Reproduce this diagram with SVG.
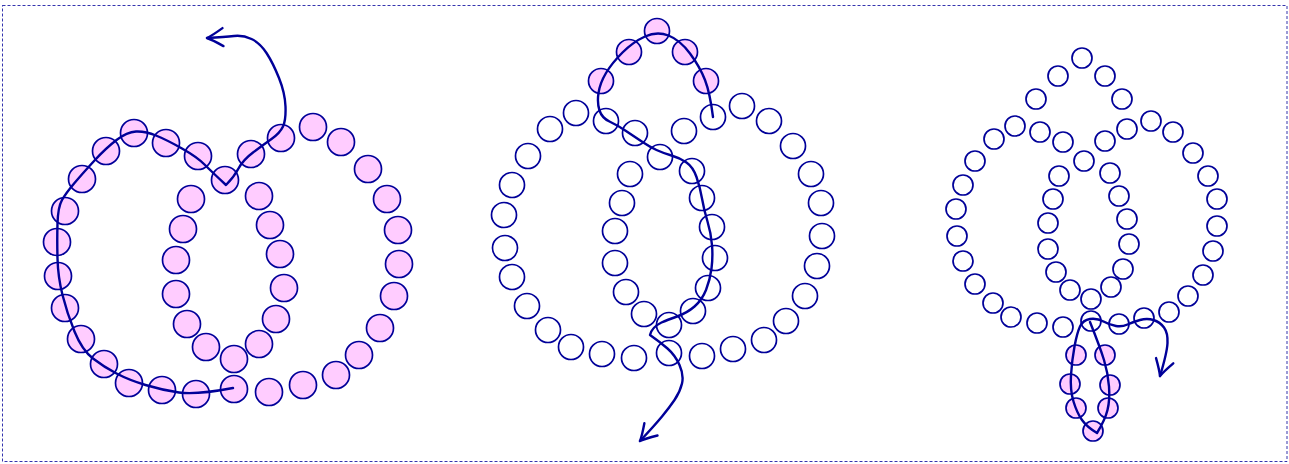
<svg xmlns="http://www.w3.org/2000/svg" width="1289" height="464" viewBox="0 0 1289 464">
<style>
.p{fill:#ffccff;stroke:#000099;stroke-width:1.7}
.w{fill:#ffffff;stroke:#000099;stroke-width:1.7}
.t{fill:none;stroke:#000099;stroke-width:2.4;stroke-linecap:round;stroke-linejoin:round}
</style>
<defs>
<marker id="ah" markerUnits="userSpaceOnUse" viewBox="-20 -12 24 24" refX="0" refY="0" markerWidth="24" markerHeight="24" orient="auto" overflow="visible">
<path d="M-16,-9 Q-5,-2 0,0 Q-5,2 -16,9" fill="none" stroke="#000099" stroke-width="2.4" stroke-linecap="round" stroke-linejoin="round"/>
</marker>
</defs>
<rect x="2.5" y="5.5" width="1284.5" height="456" fill="none" stroke="#000099" stroke-width="0.8" stroke-dasharray="3,2"/>

<g id="left-beads">
<g id="left-outer" class="p">
<circle class="p" cx="134" cy="133" r="13.5"/>
<circle class="p" cx="106" cy="151" r="13.5"/>
<circle class="p" cx="82" cy="179" r="13.5"/>
<circle class="p" cx="65" cy="211" r="13.5"/>
<circle class="p" cx="57" cy="242" r="13.5"/>
<circle class="p" cx="58" cy="276" r="13.5"/>
<circle class="p" cx="65" cy="308" r="13.5"/>
<circle class="p" cx="81" cy="339" r="13.5"/>
<circle class="p" cx="104" cy="364" r="13.5"/>
<circle class="p" cx="129" cy="383" r="13.5"/>
<circle class="p" cx="162" cy="390" r="13.5"/>
<circle class="p" cx="196" cy="394" r="13.5"/>
<circle class="p" cx="234" cy="389" r="13.5"/>
<circle class="p" cx="269" cy="392" r="13.5"/>
<circle class="p" cx="303" cy="385" r="13.5"/>
<circle class="p" cx="336" cy="375" r="13.5"/>
<circle class="p" cx="359" cy="355" r="13.5"/>
<circle class="p" cx="380" cy="328" r="13.5"/>
<circle class="p" cx="394" cy="296" r="13.5"/>
<circle class="p" cx="399" cy="264" r="13.5"/>
<circle class="p" cx="398" cy="230" r="13.5"/>
<circle class="p" cx="387" cy="199" r="13.5"/>
<circle class="p" cx="368" cy="169" r="13.5"/>
<circle class="p" cx="341" cy="142" r="13.5"/>
<circle class="p" cx="313" cy="127" r="13.5"/>
<circle class="p" cx="281" cy="138" r="13.5"/>
<circle class="p" cx="251" cy="154" r="13.5"/>
<circle class="p" cx="225" cy="180" r="13.5"/>
<circle class="p" cx="198" cy="156" r="13.5"/>
<circle class="p" cx="166" cy="143" r="13.5"/>
</g>
<g id="left-inner">
<circle class="p" cx="191" cy="199" r="13.5"/>
<circle class="p" cx="183" cy="229" r="13.5"/>
<circle class="p" cx="176" cy="260" r="13.5"/>
<circle class="p" cx="176" cy="294" r="13.5"/>
<circle class="p" cx="187" cy="324" r="13.5"/>
<circle class="p" cx="206" cy="347" r="13.5"/>
<circle class="p" cx="234" cy="359" r="13.5"/>
<circle class="p" cx="259" cy="344" r="13.5"/>
<circle class="p" cx="276" cy="319" r="13.5"/>
<circle class="p" cx="284" cy="288" r="13.5"/>
<circle class="p" cx="280" cy="254" r="13.5"/>
<circle class="p" cx="270" cy="225" r="13.5"/>
<circle class="p" cx="259" cy="196" r="13.5"/>
</g>
</g>

<g id="middle-beads">
<g id="middle-top">
<circle class="p" cx="657" cy="31" r="12.5"/>
<circle class="p" cx="629" cy="52" r="12.5"/>
<circle class="p" cx="685" cy="52" r="12.5"/>
<circle class="p" cx="601" cy="81" r="12.5"/>
<circle class="p" cx="706" cy="81" r="12.5"/>
</g>
<g id="middle-inner">
<circle class="w" cx="713" cy="117" r="12.5"/>
<circle class="w" cx="684" cy="131" r="12.5"/>
<circle class="w" cx="606" cy="121" r="12.5"/>
<circle class="w" cx="635" cy="133" r="12.5"/>
<circle class="w" cx="660" cy="157" r="12.5"/>
<circle class="w" cx="692" cy="171" r="12.5"/>
<circle class="w" cx="702" cy="198" r="12.5"/>
<circle class="w" cx="712" cy="227" r="12.5"/>
<circle class="w" cx="715" cy="258" r="12.5"/>
<circle class="w" cx="708" cy="288" r="12.5"/>
<circle class="w" cx="693" cy="311" r="12.5"/>
<circle class="w" cx="669" cy="325" r="12.5"/>
<circle class="w" cx="644" cy="314" r="12.5"/>
<circle class="w" cx="626" cy="292" r="12.5"/>
<circle class="w" cx="615" cy="263" r="12.5"/>
<circle class="w" cx="615" cy="231" r="12.5"/>
<circle class="w" cx="622" cy="203" r="12.5"/>
<circle class="w" cx="630" cy="174" r="12.5"/>
</g>
<g id="middle-outer">
<circle class="w" cx="576" cy="113" r="12.5"/>
<circle class="w" cx="550" cy="129" r="12.5"/>
<circle class="w" cx="528" cy="156" r="12.5"/>
<circle class="w" cx="512" cy="185" r="12.5"/>
<circle class="w" cx="504" cy="215" r="12.5"/>
<circle class="w" cx="505" cy="248" r="12.5"/>
<circle class="w" cx="512" cy="277" r="12.5"/>
<circle class="w" cx="527" cy="306" r="12.5"/>
<circle class="w" cx="548" cy="330" r="12.5"/>
<circle class="w" cx="571" cy="347" r="12.5"/>
<circle class="w" cx="602" cy="354" r="12.5"/>
<circle class="w" cx="634" cy="358" r="12.5"/>
<circle class="w" cx="669" cy="353" r="12.5"/>
<circle class="w" cx="702" cy="356" r="12.5"/>
<circle class="w" cx="733" cy="349" r="12.5"/>
<circle class="w" cx="764" cy="340" r="12.5"/>
<circle class="w" cx="786" cy="321" r="12.5"/>
<circle class="w" cx="805" cy="296" r="12.5"/>
<circle class="w" cx="817" cy="266" r="12.5"/>
<circle class="w" cx="822" cy="236" r="12.5"/>
<circle class="w" cx="821" cy="203" r="12.5"/>
<circle class="w" cx="811" cy="174" r="12.5"/>
<circle class="w" cx="793" cy="146" r="12.5"/>
<circle class="w" cx="769" cy="121" r="12.5"/>
<circle class="w" cx="742" cy="106" r="12.5"/>
</g>
</g>

<g id="right-beads">
<g id="right-outer">
<circle class="w" cx="1082" cy="58" r="10"/>
<circle class="w" cx="1058" cy="76" r="10"/>
<circle class="w" cx="1105" cy="76" r="10"/>
<circle class="w" cx="1036" cy="99" r="10"/>
<circle class="w" cx="1122" cy="99" r="10"/>
<circle class="w" cx="1015" cy="126" r="10"/>
<circle class="w" cx="994" cy="139" r="10"/>
<circle class="w" cx="975" cy="161" r="10"/>
<circle class="w" cx="963" cy="185" r="10"/>
<circle class="w" cx="956" cy="209" r="10"/>
<circle class="w" cx="957" cy="236" r="10"/>
<circle class="w" cx="963" cy="261" r="10"/>
<circle class="w" cx="975" cy="284" r="10"/>
<circle class="w" cx="993" cy="303" r="10"/>
<circle class="w" cx="1011" cy="317" r="10"/>
<circle class="w" cx="1037" cy="323" r="10"/>
<circle class="w" cx="1063" cy="327" r="10"/>
<circle class="w" cx="1091" cy="321" r="10"/>
<circle class="w" cx="1119" cy="324" r="10"/>
<circle class="w" cx="1144" cy="318" r="10"/>
<circle class="w" cx="1169" cy="312" r="10"/>
<circle class="w" cx="1188" cy="296" r="10"/>
<circle class="w" cx="1203" cy="275" r="10"/>
<circle class="w" cx="1213" cy="251" r="10"/>
<circle class="w" cx="1217" cy="226" r="10"/>
<circle class="w" cx="1217" cy="199" r="10"/>
<circle class="w" cx="1208" cy="176" r="10"/>
<circle class="w" cx="1193" cy="153" r="10"/>
<circle class="w" cx="1173" cy="132" r="10"/>
<circle class="w" cx="1151" cy="121" r="10"/>
<circle class="w" cx="1127" cy="129" r="10"/>
<circle class="w" cx="1105" cy="141" r="10"/>
<circle class="w" cx="1084" cy="161" r="10"/>
<circle class="w" cx="1063" cy="142" r="10"/>
<circle class="w" cx="1040" cy="132" r="10"/>
</g>
<g id="right-inner">
<circle class="w" cx="1059" cy="176" r="10"/>
<circle class="w" cx="1053" cy="199" r="10"/>
<circle class="w" cx="1048" cy="223" r="10"/>
<circle class="w" cx="1048" cy="249" r="10"/>
<circle class="w" cx="1056" cy="272" r="10"/>
<circle class="w" cx="1070" cy="290" r="10"/>
<circle class="w" cx="1091" cy="299" r="10"/>
<circle class="w" cx="1111" cy="287" r="10"/>
<circle class="w" cx="1123" cy="269" r="10"/>
<circle class="w" cx="1129" cy="244" r="10"/>
<circle class="w" cx="1127" cy="219" r="10"/>
<circle class="w" cx="1119" cy="196" r="10"/>
<circle class="w" cx="1110" cy="173" r="10"/>
</g>
<g id="right-drop">
<circle class="p" cx="1076" cy="355" r="10"/>
<circle class="p" cx="1105" cy="355" r="10"/>
<circle class="p" cx="1070" cy="384" r="10"/>
<circle class="p" cx="1110" cy="385" r="10"/>
<circle class="p" cx="1076" cy="408" r="10"/>
<circle class="p" cx="1108" cy="408" r="10"/>
<circle class="p" cx="1093" cy="431" r="10"/>
</g>
</g>

<g id="connectors">
<path class="t" marker-end="url(#ah)" d="M233,388 Q196,395 179,392.5 Q162,390 145.5,385 Q129,380 116.5,373.5 Q104,367 93,358.5 Q82,350 74.5,331.5 Q67,313 62.5,295 Q58,277 57.5,258.5 Q57,240 57.5,223.5 Q58,207 62,200 Q66,193 74.5,183 Q83,173 94.5,160.5 Q106,148 116.5,140 Q127,132 136,131.5 Q145,131 156,135.5 Q167,140 182,148.5 Q197,157 204.5,164.5 Q212,172 226,185 Q234,177 238.5,168.5 Q243,160 253,152.5 Q263,145 271.5,139 Q280,133 283,126.5 Q286,120 285.5,106.5 Q285,93 279,78 Q273,63 266.5,53 Q260,43 251.5,39 Q243,35 234,36 Q225,37 207,38"/>
<path class="t" marker-end="url(#ah)" d="M713,117 Q710,93 705,80 Q700,67 690,53.5 Q680,40 668.5,35.5 Q657,31 645,36.5 Q633,42 622.5,52.5 Q612,63 606,73 Q600,83 598.5,93 Q597,103 599.5,110.5 Q602,118 609.5,121.5 Q617,125 626,131 Q635,137 642.5,142 Q650,147 656.5,150 Q663,153 671.5,155.5 Q680,158 686.5,162.5 Q693,167 696.5,177 Q700,187 702,198.5 Q704,210 707.5,221.5 Q711,233 712,245 Q713,257 711.5,268.5 Q710,280 706,290 Q702,300 694.5,306.5 Q687,313 677,316.5 Q667,320 661.5,322.5 Q652,327 650,335 Q660,342 667.5,348.5 Q675,355 679.5,365 Q684,375 682,383.5 Q680,392 674.5,400 Q669,408 662,416.5 Q655,425 640,441"/>
<path class="t" marker-end="url(#ah)" d="M1090,322 Q1100,347 1104,360 Q1108,373 1109,386.5 Q1110,400 1107.5,410 Q1105,420 1097,433 Q1087,427 1082,420 Q1077,413 1073.5,401.5 Q1070,390 1071,375 Q1072,360 1074.5,346.5 Q1077,333 1080,326.5 Q1083,320 1090,319 Q1097,318 1103.5,321.5 Q1110,325 1116,326 Q1122,327 1127.5,324.5 Q1133,322 1140,320 Q1147,318 1153.5,320 Q1160,322 1164,327.5 Q1168,333 1167.5,343 Q1167,353 1160,376"/>
</g>
</svg>
